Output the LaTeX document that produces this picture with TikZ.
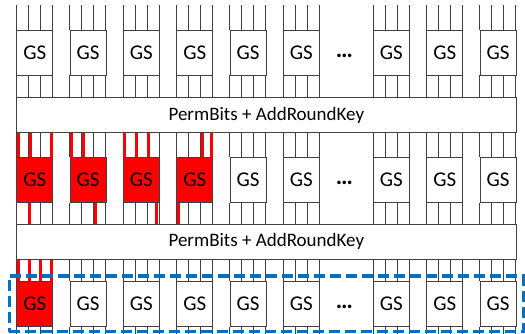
\documentclass[tikz,border=0pt]{standalone}
\usepackage{fontspec}
\setmainfont{Carlito}
\usetikzlibrary{positioning,fit,calc}
\definecolor{cSel} {HTML}{0070C0}
\definecolor{cHot} {HTML}{FF0000}
\definecolor{cLine}{HTML}{404040}
\tikzset{
  gs/.style   ={draw=cLine,fill=white,line width=0.8pt,minimum width=36pt,
                minimum height=45pt,inner sep=0pt,font=\fontsize{21}{24}\selectfont},
  hot/.style  ={gs,fill=cHot},
  band/.style ={draw=cLine,fill=white,line width=0.8pt,minimum width=499.3pt,
                minimum height=35.4pt,inner sep=0pt,font=\fontsize{19}{22}\selectfont},
  wire/.style ={draw=cLine,line width=0.8pt},
  hotw/.style ={draw=cHot,line width=3pt},
  dots/.style ={font=\bfseries\fontsize{24}{26}\selectfont,inner sep=0pt,anchor=base},
  sel/.style  ={draw=cSel,line width=3.5pt,dash pattern=on 11pt off 5pt,
                inner xsep=7pt,inner ysep=5pt},
}

\begin{document}
\begin{tikzpicture}[x=1pt, y=1pt]
\useasboundingbox (0,0) rectangle (525,-334);

% ===== round layers =======================================================
\node[band] (pb1) at (266.35,-115)   {PermBits + AddRoundKey};
\node[band] (pb2) at (266.35,-241.8) {PermBits + AddRoundKey};
\coordinate (wtop) at (0,-5.3);
\coordinate (wbot) at (0,-334);

% ===== GS rows ============================================================
% box centres, the gap after column 6 holds the dots
\def\cols{1/34.7,2/88,3/141.3,4/194.7,5/248,6/301.3,7/391.3,8/444.7,9/498}
\def\yA{-52.5}
\def\yB{-179.7}
\def\yC{-303.7}
\foreach \c/\x in \cols{
  \node[gs] (a\c) at (\x,\yA) {GS};
  \ifnum\c<5 \node[hot] (b\c) at (\x,\yB) {GS};
  \else      \node[gs]  (b\c) at (\x,\yB) {GS};\fi
  \ifnum\c=1 \node[hot] (c\c) at (\x,\yC) {GS};
  \else      \node[gs]  (c\c) at (\x,\yC) {GS};\fi
}
\node[dots] (e1) at (344.5,\yA-5) {…};
\node[dots] (e2) at (344.5,\yB-5) {…};
\node[dots] (e3) at (344.5,\yC-5) {…};

% ===== wires: four per box ================================================
\foreach \c in {1,...,9}{
  \foreach \k in {0,12,24,36}{
    \draw[wire] ([xshift=\k]a\c.north west) -- ([xshift=\k]a\c.north west |- wtop);
    \draw[wire] ([xshift=\k]a\c.south west) -- ([xshift=\k]a\c.south west |- pb1.north);
    \draw[wire] ([xshift=\k]b\c.north west) -- ([xshift=\k]b\c.north west |- pb1.south);
    \draw[wire] ([xshift=\k]b\c.south west) -- ([xshift=\k]b\c.south west |- pb2.north);
    \draw[wire] ([xshift=\k]c\c.north west) -- ([xshift=\k]c\c.north west |- pb2.south);
    \draw[wire] ([xshift=\k]c\c.south west) -- ([xshift=\k]c\c.south west |- wbot);
  }
}

% ===== active bits ========================================================
\foreach \n/\k in {b1/2,b1/14,b1/34.7,b2/2,b2/14,b3/2,b3/14,b3/26,b4/26,b4/34.7}
  \draw[hotw] ([xshift=\k]\n.north west) -- ([xshift=\k]\n.north west |- pb1.south);
\foreach \n/\k in {b1/13,b2/25.5,b3/34,b4/2.3}
  \draw[hotw] ([xshift=\k]\n.south west) -- ([xshift=\k]\n.south west |- pb2.north);
\foreach \k in {2.5,13.5,24.5,34.7}
  \draw[hotw] ([xshift=\k]c1.north west) -- ([xshift=\k]c1.north west |- pb2.south);

% ===== selected row =======================================================
\node[sel,fit=(c1)(c9)] (selrow) {};
\end{tikzpicture}
\end{document}
